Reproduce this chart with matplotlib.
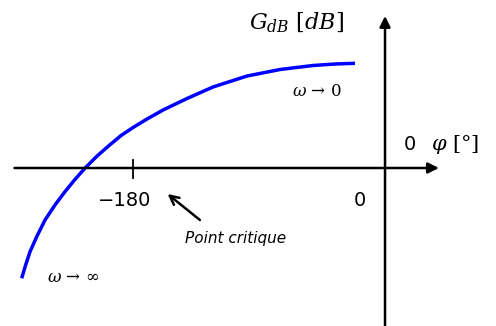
import matplotlib.pyplot as plt

# Black locus: phase (deg) vs gain (dB), from w -> inf to w -> 0
phase_deg = [-268.3, -265.6, -261.7, -256.4, -249.8, -241.9, -234.0, -226.1,
             -218.0, -208.5, -199.0, -189.5, -180.0, -168.9, -156.2, -137.2,
             -116.6, -89.6, -63.4, -37.3, -19.8, -4.0]
gain_db = [-11.03, -9.87, -8.37, -6.87, -5.2, -3.7, -2.37, -1.15,
           0.0, 1.2, 2.25, 3.25, 4.05, 4.9, 5.8, 6.95,
           8.1, 9.2, 9.85, 10.25, 10.4, 10.47]

tick_pos = [-180, 0]
tick_labels = ['\u2212180', '0']

plt.rcParams['mathtext.fontset'] = 'dejavuserif'

fig = plt.figure(figsize=(4.96, 3.26), dpi=100)
ax = fig.add_axes([0, 0, 1, 1])
ax.set_xlim(-285.5, 107.8)
ax.set_ylim(-15.8, 16.8)
ax.axis('off')

arrow = dict(arrowstyle='-|>', lw=1.8, color='black', mutation_scale=16,
             shrinkA=0, shrinkB=0)
# phase axis and gain axis
ax.annotate('', xy=(62.5, 0), xytext=(-274, 0), arrowprops=arrow)
ax.annotate('', xy=(19.8, 15.2), xytext=(19.8, -16), arrowprops=arrow)

# tick at -180
ax.plot([-180, -180], [0.8, -1.0], color='black', lw=1.3)

ax.plot(phase_deg, gain_db, color='#0000ff', lw=2.5, solid_capstyle='butt',
        solid_joinstyle='round')

ax.text(tick_pos[0] - 7, -3.2, tick_labels[0], fontsize=14,
        ha='center', va='center')
ax.text(tick_pos[1], -3.2, tick_labels[1], fontsize=14,
        ha='center', va='center')

ax.text(-50.7, 14.5, r'$G_{dB}\ [dB]$', fontsize=16, ha='center', va='center')
ax.text(39.6, 2.4, '0', fontsize=14, ha='center', va='center')
ax.text(75, 2.4, r'$\varphi$ [°]', fontsize=15, ha='center', va='center',
        family='DejaVu Serif')
ax.text(-34, 7.6, r'$\omega$ → 0', fontsize=12, ha='center', va='center',
        family='DejaVu Serif')
ax.text(-227.6, -10.9, r'$\omega$ → ∞', fontsize=12, ha='center', va='center',
        family='DejaVu Serif')

ax.annotate('', xy=(-152.6, -2.6), xytext=(-127, -5.2),
            arrowprops=dict(arrowstyle='->', lw=1.8, color='black',
                            mutation_scale=16, shrinkA=0, shrinkB=0))
ax.text(-99, -7.0, 'Point critique', fontsize=11, style='italic',
        ha='center', va='center')

fig.savefig('out.png', dpi=100)
